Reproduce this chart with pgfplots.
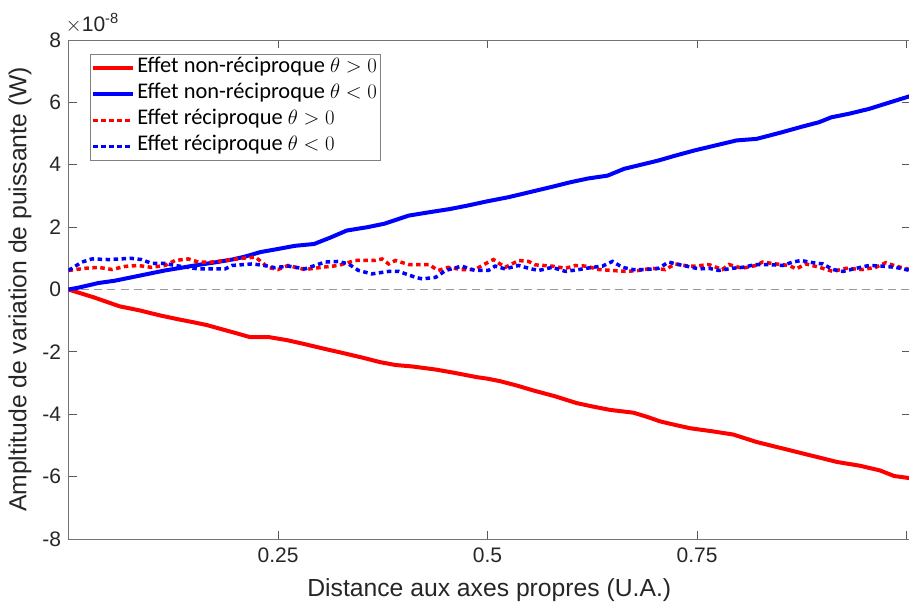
\documentclass[border=0pt]{standalone}
\usepackage{fontspec}
\setmainfont{Liberation Sans}
\newfontfamily\legendfont{Carlito}
\usepackage{pgfplots}
\usepackage{pgfplotstable}
\pgfplotsset{compat=1.18}

% y values in units of 1e-8 W
\pgfplotstableread{
x y
0 0
0.030 -0.25
0.061 -0.54
0.085 -0.67
0.109 -0.83
0.130 -0.95
0.149 -1.05
0.165 -1.14
0.181 -1.26
0.200 -1.40
0.217 -1.53
0.240 -1.53
0.260 -1.62
0.280 -1.74
0.305 -1.90
0.328 -2.04
0.350 -2.18
0.372 -2.33
0.390 -2.42
0.411 -2.47
0.439 -2.57
0.460 -2.67
0.487 -2.81
0.500 -2.86
0.515 -2.94
0.535 -3.08
0.555 -3.24
0.580 -3.42
0.606 -3.64
0.625 -3.75
0.646 -3.86
0.674 -3.95
0.690 -4.08
0.706 -4.23
0.725 -4.35
0.742 -4.45
0.769 -4.55
0.793 -4.65
0.821 -4.89
0.845 -5.05
0.869 -5.21
0.893 -5.37
0.917 -5.53
0.944 -5.65
0.968 -5.80
0.985 -5.98
1.004 -6.05
}\nrpos

\pgfplotstableread{
x y
0 0
0.012 0.06
0.036 0.21
0.055 0.28
0.075 0.39
0.095 0.50
0.115 0.61
0.135 0.70
0.155 0.79
0.175 0.87
0.195 0.96
0.210 1.05
0.229 1.20
0.250 1.30
0.270 1.40
0.293 1.46
0.312 1.66
0.332 1.89
0.357 2.00
0.377 2.11
0.406 2.37
0.431 2.48
0.455 2.58
0.476 2.69
0.500 2.83
0.525 2.96
0.550 3.12
0.575 3.28
0.599 3.44
0.620 3.56
0.643 3.65
0.663 3.87
0.683 4.00
0.703 4.13
0.725 4.30
0.747 4.46
0.772 4.62
0.797 4.78
0.821 4.83
0.851 5.04
0.875 5.22
0.895 5.36
0.910 5.52
0.932 5.64
0.955 5.79
0.980 6.00
1.004 6.20
}\nrneg

\pgfplotstableread{
x y
0 0.61
0.020 0.68
0.036 0.71
0.052 0.64
0.067 0.74
0.083 0.77
0.099 0.71
0.115 0.77
0.127 0.93
0.143 0.98
0.155 0.88
0.171 0.88
0.187 0.93
0.207 1.00
0.223 1.04
0.238 0.71
0.250 0.64
0.262 0.77
0.282 0.64
0.302 0.71
0.322 0.77
0.342 0.93
0.366 0.93
0.374 0.98
0.382 0.82
0.390 0.93
0.406 0.80
0.430 0.80
0.441 0.61
0.453 0.71
0.469 0.64
0.485 0.64
0.501 0.88
0.507 0.96
0.521 0.71
0.537 0.93
0.549 0.90
0.557 0.79
0.577 0.75
0.593 0.68
0.605 0.77
0.617 0.75
0.633 0.64
0.649 0.61
0.665 0.58
0.680 0.61
0.696 0.68
0.712 0.64
0.724 0.82
0.740 0.75
0.748 0.75
0.764 0.80
0.780 0.64
0.788 0.80
0.804 0.68
0.820 0.77
0.828 0.88
0.844 0.82
0.860 0.77
0.868 0.66
0.880 0.82
0.896 0.71
0.912 0.58
0.928 0.68
0.947 0.64
0.963 0.71
0.975 0.86
0.987 0.75
1.004 0.64
}\rpos

\pgfplotstableread{
x y
0 0.61
0.016 0.88
0.028 0.98
0.048 0.96
0.075 1.00
0.087 0.96
0.099 0.84
0.115 0.84
0.127 0.77
0.155 0.66
0.187 0.66
0.195 0.77
0.219 0.82
0.234 0.77
0.246 0.70
0.262 0.75
0.282 0.66
0.306 0.88
0.322 0.90
0.334 0.82
0.346 0.61
0.362 0.50
0.382 0.58
0.394 0.58
0.414 0.39
0.422 0.34
0.438 0.39
0.450 0.61
0.469 0.75
0.485 0.61
0.501 0.61
0.509 0.75
0.521 0.66
0.537 0.77
0.549 0.68
0.561 0.61
0.577 0.71
0.593 0.58
0.609 0.64
0.625 0.71
0.637 0.75
0.649 0.90
0.661 0.71
0.673 0.64
0.689 0.64
0.704 0.68
0.716 0.88
0.728 0.80
0.744 0.71
0.752 0.66
0.764 0.68
0.776 0.61
0.792 0.68
0.804 0.71
0.820 0.80
0.836 0.80
0.852 0.77
0.864 0.88
0.874 0.93
0.888 0.86
0.900 0.82
0.912 0.64
0.924 0.58
0.940 0.68
0.955 0.77
0.971 0.75
0.987 0.71
1.004 0.61
}\rneg

\begin{document}
\begin{tikzpicture}[x=1pt,y=1pt]
\useasboundingbox (-68.5,-67) rectangle (840.5,539);
\begin{axis}[
  at={(0,0)}, anchor=south west,
  scale only axis, width=841.5pt, height=499pt,
  xmin=0, xmax=1.004, ymin=-8e-8, ymax=8e-8,
  xtick={0.25,0.5,0.75,1},
  xticklabels={0.25,0.5,0.75,{}},
  ytick={-8e-8,-6e-8,-4e-8,-2e-8,0,2e-8,4e-8,6e-8,8e-8},
  scaled x ticks=false,
  scaled y ticks=base 10:8,
  ytick scale label code/.code={$\times$10\textsuperscript{-8}},
  every y tick scale label/.style={at={(rel axis cs:0,1)}, anchor=south west, inner sep=0pt, xshift=1pt, yshift=7pt, font=\fontsize{21}{25}\selectfont, text=black!85},
  /pgf/number format/assume math mode=true,
  tick label style={font=\fontsize{21}{25}\selectfont, text=black!85},
  xticklabel style={yshift=-5pt},
  yticklabel style={xshift=-4pt},
  tick align=inside,
  major tick length=8pt,
  axis line style={draw=black!55, line width=0.8pt},
  tick style={draw=black!65, line width=0.8pt},
  xlabel={Distance aux axes propres (U.A.)},
  ylabel={Ampltitude de variation de puissante (W)},
  xlabel style={at={(axis description cs:0.5,-0.102)}, anchor=center, font=\fontsize{24.7}{28}\selectfont, text=black!85},
  ylabel style={at={(axis description cs:-0.0577,0.5)}, anchor=center, font=\fontsize{24.7}{28}\selectfont, text=black!85},
  legend style={at={(axis description cs:0.0256,0.972)}, anchor=north west,
    draw=black!50, line width=0.8pt, fill=white,
    font=\legendfont\fontsize{22.4}{27}\selectfont, text=black,
    inner sep=1pt, row sep=0pt,
    nodes={inner sep=2pt, text height=15.5pt, text depth=6.5pt}},
  legend cell align=left,
  legend image code/.code={\draw[#1] (0pt,0pt) -- (40pt,0pt);},
]
\addplot[black!40, dash pattern=on 8pt off 5pt, line width=1.2pt, forget plot] coordinates {(0,0) (1.004,0)};
\addplot[red, line width=4pt] table[x=x, y expr=\thisrow{y}*1e-8] {\nrpos};
\addlegendentry{Effet non-réciproque $\theta > 0$}
\addplot[blue, line width=4pt] table[x=x, y expr=\thisrow{y}*1e-8] {\nrneg};
\addlegendentry{Effet non-réciproque $\theta < 0$}
\addplot[red, line width=3.5pt, dash pattern=on 4.5pt off 3.5pt] table[x=x, y expr=\thisrow{y}*1e-8] {\rpos};
\addlegendentry{Effet réciproque $\theta > 0$}
\addplot[blue, line width=3.5pt, dash pattern=on 4.5pt off 3.5pt] table[x=x, y expr=\thisrow{y}*1e-8] {\rneg};
\addlegendentry{Effet réciproque $\theta < 0$}
\end{axis}
\end{tikzpicture}
\end{document}
